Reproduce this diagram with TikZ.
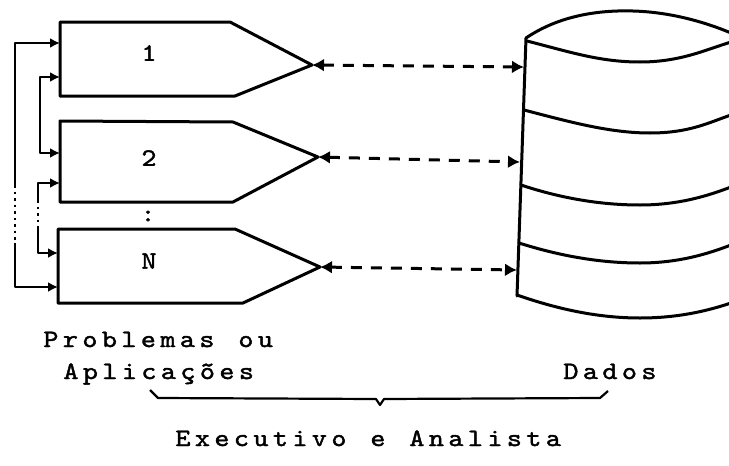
\documentclass[tikz,border=0pt]{standalone}
\usepackage{fontspec}
\usetikzlibrary{arrows.meta}
\newfontfamily\twfamily{lmmono10-regular.otf}[FakeBold=1.6,FakeStretch=1.15]
\tikzset{
  feedtip/.tip={Latex[length=10pt,width=10pt]},
  linktip/.tip={Latex[length=12pt,width=13pt]}}
% typewriter text with a fixed, wide pitch
\newlength\pitch
\setlength\pitch{19.5pt}
\def\spread#1{\spreadi#1\relax}
\def\spreadi#1{\ifx\relax#1\else\makebox[\pitch]{#1}\expandafter\spreadi\fi}
\newcommand\gap{\hspace*{\pitch}}
\newcommand\twfont{\twfamily\fontsize{25}{28}\selectfont}
\begin{document}
\begin{tikzpicture}[x=1pt,y=-1pt,
  ink/.style={line width=3pt, line join=round, line cap=round},
  feed/.style={line width=2.6pt, line join=round},
  dots/.style={line width=2.6pt, dash pattern=on 2.5pt off 4pt},
  link/.style={line width=3pt, dash pattern=on 11pt off 9pt, linktip-linktip},
  lbl/.style={font=\twfont, inner sep=0pt, anchor=base west},
  num/.style={font=\twfont, inner sep=0pt}]
\useasboundingbox (0,0) rectangle (729,466);

% --- application boxes (pointed on the right) ---
\draw[ink] (60,22) -- (230,22) -- (312,65) -- (235,96) -- (60,96) -- cycle;
\draw[ink] (60,121) -- (233,122) -- (318,157) -- (233,202) -- (60,202) -- cycle;
\draw[ink] (58,229) -- (235,229) -- (320,267) -- (243,303) -- (58,303) -- cycle;
\coordinate (t1) at (312,65);
\coordinate (t2) at (318,157);
\coordinate (tN) at (320,267);

\node[num] (n1) at (149,53) {1};
\node[num] (n2) at (149,158) {2};
\node[num] (nN) at (149,261) {N};
\node[num] (vdots) at (148,216) {:};

% --- feedback loops on the left ---
\coordinate (in1a) at (60,43);
\coordinate (in1b) at (60,77);
\coordinate (in2a) at (60,153);
\coordinate (in2b) at (60,183);
\coordinate (inNa) at (58,253);
\coordinate (inNb) at (58,287);

% outer loop: box 1 <-> box N
\draw[feed, feedtip-] (in1a) -- (15,43) -- (15,185);
\draw[dots] (15,185) -- (15,243);
\draw[feed, -feedtip] (15,243) -- (15,287) -- (inNb);
% loop between box 1 and box 2
\draw[feed, feedtip-feedtip] (in1b) -- (40,77) -- (40,153) -- (in2a);
% loop between box 2 and box N
\draw[feed, feedtip-] (in2b) -- (38,183) -- (38,200);
\draw[dots] (38,200) -- (38,228);
\draw[feed, -feedtip] (38,228) -- (38,253) -- (inNa);

% --- data store (cylinder, cut at the right edge) ---
\coordinate (d1) at (524,67);
\coordinate (d2) at (520,162);
\coordinate (d3) at (517,270);
\draw[ink] (526,38) -- (517,296);
\draw[ink] (526,38) .. controls (560,15) and (600,10) .. (633,11)
  .. controls (670,12) and (705,22) .. (731,33);
\draw[ink] (527,41) .. controls (570,52) and (600,62) .. (640,62)
  .. controls (680,62) and (705,50) .. (731,42);
\draw[ink] (524,110) .. controls (570,122) and (610,133) .. (650,133)
  .. controls (690,133) and (710,122) .. (731,115);
\draw[ink] (521,185) .. controls (560,198) and (600,205) .. (640,205)
  .. controls (680,205) and (710,195) .. (731,187);
\draw[ink] (519,243) .. controls (560,256) and (600,263) .. (640,263)
  .. controls (680,263) and (710,253) .. (731,245);
\draw[ink] (517,295) .. controls (560,310) and (600,318) .. (640,318)
  .. controls (680,318) and (710,310) .. (731,303);

% --- links between applications and data ---
\draw[link] (t1) -- (d1);
\draw[link] (t2) -- (d2);
\draw[link] (tN) -- (d3);

% --- captions ---
\node[lbl] (cap1) at (41,347) {\spread{Problemas}\gap\spread{ou}};
\node[lbl] (cap2) at (61,379) {\spread{Aplicações}};
\node[lbl] (cap3) at (561,379) {\spread{Dados}};
\draw[line width=2.2pt, line join=round]
  (150,390) -- (158,398) -- (376,399) -- (380,405) -- (384,399) -- (600,398) -- (608,391);
\node[lbl] (cap4) at (173,446) {\spread{Executivo}\gap\spread{e}\gap\spread{Analista}};
\end{tikzpicture}
\end{document}
